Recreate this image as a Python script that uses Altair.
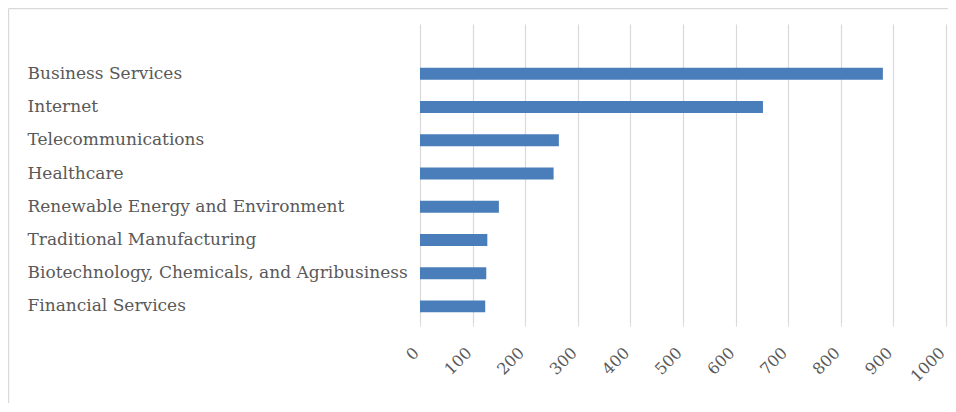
import altair as alt
import pandas as pd

categories = [
    "Business Services",
    "Internet",
    "Telecommunications",
    "Healthcare",
    "Renewable Energy and Environment",
    "Traditional Manufacturing",
    "Biotechnology, Chemicals, and Agribusiness",
    "Financial Services",
]
values = [880, 652, 264, 254, 150, 128, 126, 124]
x_ticks = [0, 100, 200, 300, 400, 500, 600, 700, 800, 900, 1000]

df = pd.DataFrame({"category": categories, "value": values})
domain = [" "] + categories

FONT = "DejaVu Serif"
GRAY = "#595959"

bars = alt.Chart(df).mark_bar(color="#4a7ebb").encode(
    x=alt.X(
        "value:Q",
        scale=alt.Scale(domain=[0, 1000], nice=False),
        axis=alt.Axis(
            values=x_ticks,
            format="d",
            title=None,
            grid=True,
            gridColor="#d9d9d9",
            gridWidth=1.2,
            domain=False,
            ticks=True,
            tickSize=3,
            tickColor="#d9d9d9",
            labelAngle=-45,
            labelAlign="right",
            labelBaseline="middle",
            labelPadding=24,
            labelOffset=-4,
            labelFont=FONT,
            labelFontSize=16,
            labelColor=GRAY,
            labelFlush=False,
        ),
    ),
    y=alt.Y(
        "category:N",
        sort=domain,
        scale=alt.Scale(domain=domain, paddingInner=0.64, paddingOuter=0.32),
        axis=alt.Axis(
            title=None,
            domain=False,
            ticks=False,
            grid=False,
            labelAlign="left",
            labelPadding=393,
            labelFont=FONT,
            labelFontSize=17,
            labelColor=GRAY,
            labelLimit=0,
        ),
    ),
)

frame_data = alt.Data(values=[{"a": 1}])
frame_left = alt.Chart(frame_data).mark_rule(
    color="#d9d9d9", strokeWidth=1.2, clip=False
).encode(
    x=alt.value(-411.4),
    y=alt.value(-15.4),
    y2=alt.value(400),
)
frame_top = alt.Chart(frame_data).mark_rule(
    color="#d9d9d9", strokeWidth=1.2, clip=False
).encode(
    y=alt.value(-15.4),
    x=alt.value(-411.4),
    x2=alt.value(530),
)

chart = (
    alt.layer(frame_left, frame_top, bars)
    .properties(
        width=526,
        height=299,
        autosize=alt.AutoSizeParams(type="none"),
        padding={"left": 412, "top": 16, "right": 2, "bottom": 80},
        view=alt.ViewBackground(stroke="transparent", strokeOpacity=0),
    )
    .configure_view(stroke="transparent", strokeOpacity=0, strokeWidth=0)
    .configure(background="white")
)

chart.save("out.html", embed_options={"renderer": "svg", "actions": False})
